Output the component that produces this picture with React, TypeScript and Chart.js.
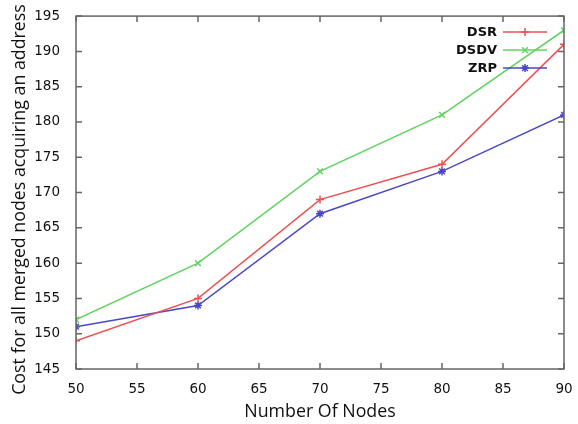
import React, { useEffect, useRef } from 'react';
import { Chart, registerables } from 'chart.js';
import { drawPoint } from 'chart.js/helpers';
Chart.register(...registerables);

const nodes = [50, 60, 70, 80, 90];
const dsr = [149, 155, 169, 174, 191];
const dsdv = [152, 160, 173, 181, 193];
const zrp = [151, 154, 167, 173, 181];
const seriesNames = ['DSR', 'DSDV', 'ZRP'];
const seriesColors = ['#ee5050', '#5fd35f', '#4848c4'];
const seriesMarkers = ['cross', 'crossRot', 'star'];
const xTitle = 'Number Of Nodes';
const yTitle = 'Cost for all merged nodes acquiring an address';

const framePlugin = {
  id: 'gnuFrame',
  afterDraw(chart: any) {
    const { ctx, chartArea: a } = chart;
    const xs = chart.scales.x;
    const ys = chart.scales.y;
    ctx.save();
    ctx.strokeStyle = '#666';
    ctx.lineWidth = 1.5;
    ctx.strokeRect(a.left, a.top, a.right - a.left, a.bottom - a.top);
    const tl = 6;
    ctx.beginPath();
    xs.ticks.forEach((t: any) => {
      const px = xs.getPixelForValue(t.value);
      ctx.moveTo(px, a.bottom);
      ctx.lineTo(px, a.bottom - tl);
      ctx.moveTo(px, a.top);
      ctx.lineTo(px, a.top + tl);
    });
    ys.ticks.forEach((t: any) => {
      const py = ys.getPixelForValue(t.value);
      ctx.moveTo(a.left, py);
      ctx.lineTo(a.left + tl, py);
      ctx.moveTo(a.right, py);
      ctx.lineTo(a.right - tl, py);
    });
    ctx.stroke();

    // y title
    ctx.fillStyle = '#111';
    ctx.font = '17.8px "Open Sans"';
    ctx.textAlign = 'center';
    ctx.textBaseline = 'middle';
    ctx.translate(20, (a.top + a.bottom) / 2 + 7);
    ctx.rotate(-Math.PI / 2);
    ctx.fillText(yTitle, 0, 0);
    ctx.restore();

    // legend
    ctx.save();
    chart.data.datasets.forEach((ds: any, i: number) => {
      const y = a.top + 16 + i * 18;
      ctx.fillStyle = '#111';
      ctx.font = 'bold 13px "DejaVu Sans"';
      ctx.textAlign = 'right';
      ctx.textBaseline = 'middle';
      ctx.fillText(ds.label, a.right - 67, y + 1);
      ctx.strokeStyle = ds.borderColor;
      ctx.lineWidth = 1.5;
      ctx.beginPath();
      ctx.moveTo(a.right - 61, y);
      ctx.lineTo(a.right - 17, y);
      ctx.stroke();
      drawPoint(ctx, { pointStyle: ds.pointStyle, radius: 4, rotation: 0, borderWidth: 1.5 } as any, a.right - 39, y);
    });
    ctx.restore();
  },
};

export default function App() {
  const ref = useRef<HTMLCanvasElement>(null);
  useEffect(() => {
    if (!ref.current) return;
    const series = [dsr, dsdv, zrp];
    const chart = new Chart(ref.current, {
      type: 'line',
      data: {
        datasets: series.map((vals, i) => ({
          label: seriesNames[i],
          data: nodes.map((n, j) => ({ x: n, y: vals[j] })),
          borderColor: seriesColors[i],
          backgroundColor: seriesColors[i],
          borderWidth: 1.5,
          pointStyle: seriesMarkers[i] as any,
          pointRadius: 4,
          pointBorderWidth: 1.5,
          tension: 0,
          fill: false,
        })),
      },
      options: {
        animation: false,
        responsive: true,
        maintainAspectRatio: false,
        layout: { padding: { top: 16, right: 14, left: 0, bottom: 0 } },
        plugins: { legend: { display: false }, tooltip: { enabled: false } },
        scales: {
          x: {
            type: 'linear',
            min: 50,
            max: 90,
            grid: { display: false },
            border: { display: false },
            ticks: { stepSize: 5, padding: 4, color: '#111', font: { family: 'DejaVu Sans', size: 13.5 } },
            title: { display: true, text: xTitle, color: '#111', font: { family: 'Open Sans', size: 17.8 }, padding: { top: 0, bottom: 1 } },
            afterFit: (s: any) => { s.height = 55; },
          },
          y: {
            type: 'linear',
            min: 145,
            max: 195,
            grid: { display: false },
            border: { display: false },
            ticks: { stepSize: 5, padding: 8, color: '#111', font: { family: 'DejaVu Sans', size: 13.5 } },
            afterFit: (s: any) => { s.width = 76; },
          },
        },
      },
      plugins: [framePlugin],
    });
    return () => chart.destroy();
  }, []);
  return (
    <div style={{ position: 'fixed', left: 0, top: 0, width: 578, height: 424, background: '#fff' }}>
      <canvas ref={ref} />
    </div>
  );
}
